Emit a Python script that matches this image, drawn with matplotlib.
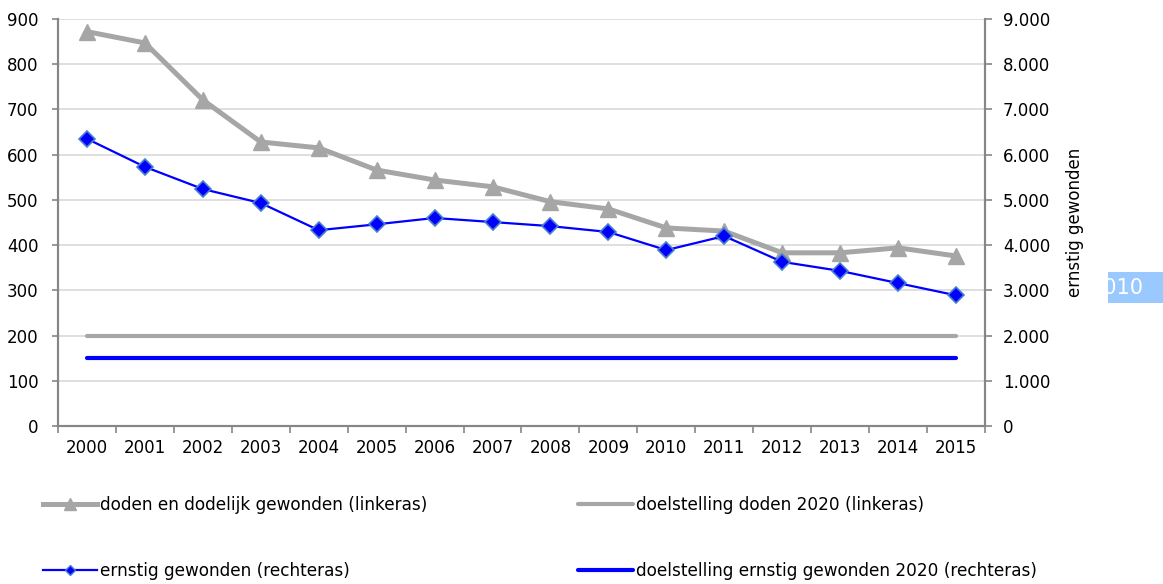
import matplotlib.pyplot as plt
from matplotlib.lines import Line2D
from matplotlib.patches import Rectangle

# data
years = ['2000', '2001', '2002', '2003', '2004', '2005', '2006', '2007',
         '2008', '2009', '2010', '2011', '2012', '2013', '2014', '2015']
doden = [872, 847, 721, 628, 615, 566, 544, 529, 496, 480, 438, 431, 383, 383, 394, 376]
ernstig = [6350, 5730, 5240, 4930, 4330, 4460, 4600, 4510, 4420, 4290, 3890, 4200,
           3630, 3430, 3160, 2890]
doel_doden = 200
doel_ernstig = 1500

labels = ['doden en dodelijk gewonden (linkeras)',
          'ernstig gewonden (rechteras)',
          'doelstelling doden 2020 (linkeras)',
          'doelstelling ernstig gewonden 2020 (rechteras)']

grey = '#a6a6a6'
blue = '#0000ff'
axis_grey = '#868686'
fs = 12
legend_fs = 12.2

plt.rcParams['font.family'] = 'DejaVu Sans'

fig = plt.figure(figsize=(11.63, 5.84), dpi=100)
ax = fig.add_axes([0.0499, 0.2705, 0.797, 0.697])
ax2 = ax.twinx()

x = list(range(len(years)))

ax.plot(x, doden, color=grey, lw=3.6, marker='^', ms=12, mfc=grey, mec=grey, zorder=3)
ax.plot(x, [doel_doden] * len(x), color=grey, lw=3, solid_capstyle='round', zorder=3)
ax2.plot(x, ernstig, color=blue, lw=1.6, marker='D', ms=8.5, mfc=blue, mec='#4a7fd0',
         mew=1.2, zorder=4)
ax2.plot(x, [doel_ernstig] * len(x), color=blue, lw=3, solid_capstyle='round', zorder=4)

ax.set_xlim(-0.5, len(years) - 0.5)
ax.set_ylim(0, 900)
ax2.set_ylim(0, 9000)
ax.set_yticks(range(0, 901, 100))
ax2.set_yticks(range(0, 9001, 1000))
ax2.set_yticklabels([f'{v:,}'.replace(',', '.') for v in range(0, 9001, 1000)])

ax.set_xticks(x)
ax.set_xticklabels(years)
ax.set_xticks([i - 0.5 for i in range(len(years) + 1)], minor=True)
ax.tick_params(axis='x', which='major', length=0, pad=9, labelsize=fs)
ax.tick_params(axis='x', which='minor', length=5, color=axis_grey, width=1.2)
ax.tick_params(axis='y', length=4, color=axis_grey, width=1.2, labelsize=fs, pad=10)
ax2.tick_params(axis='y', length=5, color=axis_grey, width=1.2, labelsize=fs, pad=8)

ax.grid(axis='y', color='#d9d9d9', lw=1.2)
ax.set_axisbelow(True)

for a in (ax, ax2):
    a.spines['top'].set_visible(False)
    for s in ('left', 'right', 'bottom'):
        a.spines[s].set_color(axis_grey)
        a.spines[s].set_linewidth(1.5)

ax2.set_ylabel('ernstig gewonden', fontsize=fs, labelpad=11)

handles = [
    Line2D([], [], color=grey, lw=3.6, marker='^', ms=8, mfc=grey, mec=grey),
    Line2D([], [], color=blue, lw=1.6, marker='D', ms=5, mfc=blue, mec='#4a7fd0'),
    Line2D([], [], color=grey, lw=3, solid_capstyle='round'),
    Line2D([], [], color=blue, lw=3, solid_capstyle='round'),
]
fig.legend(handles, labels, ncol=2, loc='upper left', bbox_to_anchor=(0.031, 0.163),
           frameon=False, fontsize=legend_fs, handlelength=3.2, handletextpad=0.2,
           labelspacing=2.85, columnspacing=8.9, borderaxespad=0)

# cut-off label at the right edge
W, H = 1163, 584
box = Rectangle((1108 / W, 1 - 303 / H), 55 / W, 31 / H, transform=fig.transFigure,
                facecolor='#99c9ff', edgecolor='none')
fig.patches.append(box)
t = fig.text(1143 / W, 1 - 288 / H, '2010', fontsize=15, color='white',
             ha='right', va='center')
t.set_clip_path(box)

fig.savefig('out.png', dpi=100)
